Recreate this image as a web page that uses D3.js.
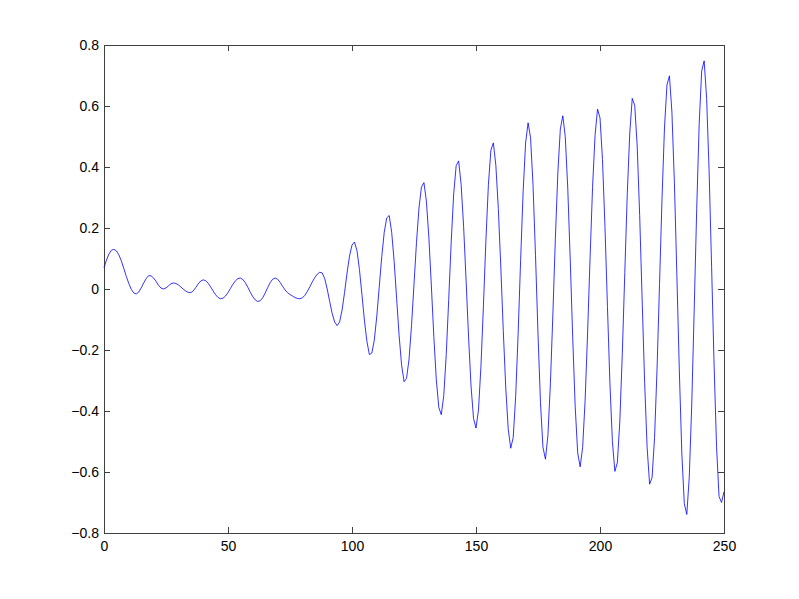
<!DOCTYPE html>
<html><head><meta charset="utf-8">
<script src="https://cdn.jsdelivr.net/npm/d3@7"></script>
<style>html,body{margin:0;padding:0;background:#fff;}</style>
</head><body>
<script>
const xTicks = [0, 50, 100, 150, 200, 250];
const yTicks = [-0.8, -0.6, -0.4, -0.2, 0, 0.2, 0.4, 0.6, 0.8];
const yValues = [
0.07,0.095,0.115,0.127,0.13,0.125,0.112,0.092,0.067,0.041,
0.018,-0.001,-0.013,-0.016,-0.010,0.0035,0.020,0.034,0.044,0.043,
0.036,0.025,0.012,0.003,0.0,0.0034,0.0104,0.017,0.020,0.018,
0.0135,0.0066,-0.0008,-0.007,-0.011,-0.012,-0.006,0.0047,0.0169,0.0264,
0.030,0.027,0.019,0.007,-0.0064,-0.019,-0.028,-0.032,-0.030,-0.023,
-0.0117,0.002,0.0157,0.027,0.034,0.036,0.031,0.0204,0.0056,-0.0106,
-0.0254,-0.036,-0.041,-0.0384,-0.0285,-0.013,0.0046,0.021,0.032,0.036,
0.032,0.022,0.009,-0.003,-0.012,-0.018,-0.023,-0.028,-0.031,-0.032,
-0.029,-0.0206,-0.008,0.0075,0.0234,0.0377,0.0485,0.055,0.0526,0.0337,
0.0,-0.041,-0.080,-0.108,-0.12,-0.108,-0.069,-0.0116,0.052,0.108,
0.144,0.154,0.126,0.064,-0.0176,-0.102,-0.171,-0.215,-0.210,-0.167,
-0.089,0.008,0.106,0.186,0.233,0.241,0.186,0.090,-0.0315,-0.153,
-0.249,-0.304,-0.293,-0.230,-0.120,0.016,0.152,0.265,0.334,0.349,
0.288,0.168,0.010,-0.156,-0.298,-0.388,-0.412,-0.350,-0.215,-0.034,
0.154,0.311,0.404,0.420,0.343,0.206,0.029,-0.157,-0.318,-0.424,
-0.456,-0.397,-0.253,-0.053,0.160,0.342,0.455,0.479,0.406,0.264,
0.072,-0.136,-0.324,-0.460,-0.522,-0.487,-0.352,-0.144,0.096,0.319,
0.479,0.545,0.496,0.340,0.109,-0.148,-0.373,-0.519,-0.558,-0.480,
-0.311,-0.082,0.165,0.380,0.524,0.568,0.499,0.331,0.095,-0.161,
-0.386,-0.537,-0.583,-0.520,-0.365,-0.144,0.103,0.333,0.503,0.590,
0.561,0.425,0.205,-0.057,-0.309,-0.500,-0.598,-0.569,-0.433,-0.211,
0.054,0.312,0.511,0.625,0.602,0.469,0.241,-0.036,-0.307,-0.519,
-0.640,-0.618,-0.487,-0.263,0.015,0.295,0.528,0.669,0.699,0.580,
0.349,0.044,-0.272,-0.540,-0.704,-0.739,-0.616,-0.377,-0.062,0.265,
0.542,0.715,0.748,0.625,0.386,0.074,-0.249,-0.517,-0.680,-0.700,
-0.665
];

const W = 799, H = 599;
const m = {left: 104, right: 724, top: 45, bottom: 533};
const axisColor = "#404040";
const svg = d3.select("body").append("svg").attr("width", W).attr("height", H)
  .style("font-family", "'Liberation Sans', Arial, sans-serif");
svg.append("rect").attr("width", W).attr("height", H).attr("fill", "#fff");

const x = d3.scaleLinear().domain([0, 250]).range([m.left, m.right]);
const y = d3.scaleLinear().domain([-0.8, 0.8]).range([m.bottom, m.top]);
const tl = 6;
const fmt = v => (Math.abs(v) < 1e-9 ? "0" : d3.format("")(+v.toFixed(1)));

function styleAxis(g) {
  g.select(".domain").remove();
  g.selectAll("line").attr("stroke", axisColor).attr("shape-rendering", "crispEdges");
  g.selectAll("text").attr("fill", "#000").style("font-size", "14px");
}

svg.append("g").attr("transform", `translate(0,${m.bottom})`)
  .call(d3.axisBottom(x).tickValues(xTicks).tickSize(-tl).tickPadding(8).tickFormat(d3.format("d")))
  .call(styleAxis);
svg.append("g").attr("transform", `translate(0,${m.top})`)
  .call(d3.axisTop(x).tickValues(xTicks).tickSize(-tl).tickFormat(""))
  .call(styleAxis);
svg.append("g").attr("transform", `translate(${m.left},0)`)
  .call(d3.axisLeft(y).tickValues(yTicks).tickSize(-tl).tickPadding(5).tickFormat(fmt))
  .call(styleAxis);
svg.append("g").attr("transform", `translate(${m.right},0)`)
  .call(d3.axisRight(y).tickValues(yTicks).tickSize(-tl).tickFormat(""))
  .call(styleAxis);

svg.append("rect").attr("x", m.left).attr("y", m.top)
  .attr("width", m.right - m.left).attr("height", m.bottom - m.top)
  .attr("fill", "none").attr("stroke", axisColor).attr("shape-rendering", "crispEdges");

const line = d3.line().x((d, i) => x(i)).y(d => y(d));
svg.append("path").datum(yValues).attr("d", line)
  .attr("fill", "none").attr("stroke", "#0000ff").attr("stroke-width", 0.8);
</script>
</body></html>
